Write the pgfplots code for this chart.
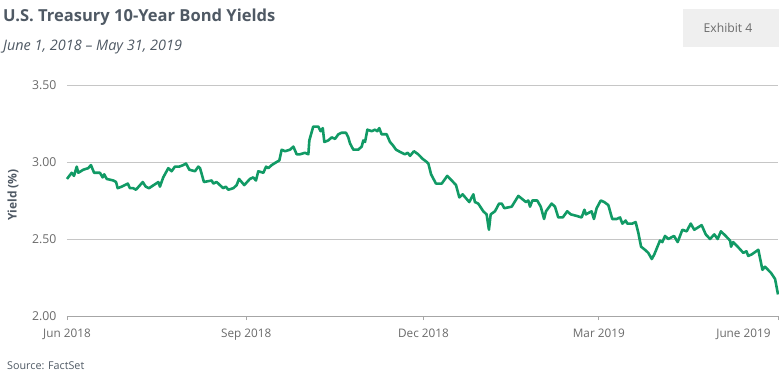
\documentclass[border=0pt]{standalone}
\usepackage{pgfplots}
\pgfplotsset{compat=1.18}
\usepackage{fontspec}
\setmainfont{Open Sans}
\definecolor{lineg}{HTML}{119A65}
\definecolor{titleg}{HTML}{4F5964}
\definecolor{tickg}{HTML}{6A6A6A}
\definecolor{gridg}{HTML}{C6C6C6}
\definecolor{boxg}{HTML}{EFEFEF}
\begin{document}
\begin{tikzpicture}[x=1bp,y=1bp]
\useasboundingbox (-67,-59) rectangle (712,316);
\begin{axis}[
  at={(0,0)}, anchor=origin,
  scale only axis, width=711bp, height=231bp,
  xmin=0, xmax=365, ymin=2, ymax=3.5,
  axis x line*=bottom, axis y line*=left,
  y axis line style={draw=none},
  x axis line style={draw=gray!70, line width=0.9pt},
  ytick={2,2.5,3,3.5},
  ytick style={draw=none},
  yticklabel style={/pgf/number format/fixed, /pgf/number format/fixed zerofill, /pgf/number format/precision=2, font=\fontsize{12.3}{14}\selectfont, text=tickg, xshift=-7bp},
  xtick={0,92,183,273},
  xticklabels={Jun 2018, Sep 2018, Dec 2018, Mar 2019},
  extra x ticks={365},
  extra x tick labels={June 2019},
  extra x tick style={xticklabel style={anchor=north east, xshift=-4bp}},
  xticklabel style={font=\fontsize{11.8}{14}\selectfont, text=tickg, yshift=-5bp},
  xtick align=outside,
  major tick length=4bp,
  xtick style={draw=gray!70, line width=0.8pt},
  ymajorgrids, grid style={draw=gridg, line width=0.8pt},
  /pgf/number format/assume math mode=true,
  clip=false,
]
\addplot[lineg, line width=2.6pt, line join=round] coordinates {
(0,2.89) (2.4,2.93) (3.6,2.91) (5.0,2.97) (5.8,2.93) (8.4,2.95) (10.9,2.96) (12.3,2.98)
(13.9,2.93) (16.9,2.93) (18.3,2.90) (19.1,2.92) (20.4,2.89) (23.8,2.88) (25.2,2.87) (26.0,2.83)
(28.1,2.84) (31.2,2.86) (32.3,2.83) (34.0,2.83) (35.4,2.82) (38.9,2.87) (40.4,2.84) (42.1,2.83)
(46.9,2.87) (47.7,2.84) (49.4,2.90) (52.0,2.96) (53.7,2.94) (55.4,2.97) (57.6,2.97) (59.7,2.98)
(61.1,2.99) (62.8,2.95) (65.7,2.94) (67.4,2.97) (68.3,2.96) (70.3,2.87) (74.3,2.88) (75.1,2.86)
(76.8,2.87) (80.2,2.83) (81.5,2.84) (82.8,2.82) (85.4,2.83) (87.1,2.85) (88.3,2.89) (91.0,2.85)
(93.9,2.89) (95.6,2.90) (97.0,2.88) (98.2,2.94) (100.8,2.93) (102.2,2.97) (103.3,2.96) (105.1,2.98)
(107.6,3.00) (109.0,3.01) (110.2,3.08) (111.9,3.07) (114.5,3.08) (116.2,3.10) (117.9,3.05) (119.6,3.05)
(122.2,3.06) (123.9,3.05) (124.4,3.14) (126.4,3.23) (129.0,3.23) (130.2,3.20) (131.3,3.22) (132.1,3.13)
(134.1,3.14) (135.9,3.16) (137.6,3.15) (139.3,3.18) (141.0,3.19) (143.2,3.19) (144.4,3.16) (145.3,3.12)
(147.0,3.08) (149.5,3.08) (151.3,3.10) (152.1,3.14) (153.0,3.13) (154.2,3.21) (156.4,3.20) (158.1,3.21)
(159.3,3.20) (160.3,3.22) (161.5,3.18) (164.1,3.18) (165.8,3.13) (167.2,3.11) (168.9,3.08) (171.8,3.06)
(173.5,3.05) (174.9,3.06) (176.1,3.04) (178.1,3.07) (180.3,3.05) (182.6,3.02) (184.7,3.00) (185.5,2.99)
(186.9,2.92) (189.4,2.86) (192.4,2.86) (195.2,2.91) (197.5,2.88) (199.7,2.85) (201.4,2.77) (203.1,2.79)
(206.5,2.74) (208.6,2.79) (209.4,2.74) (211.1,2.73) (213.7,2.68) (215.4,2.66) (216.6,2.56) (217.5,2.66)
(219.7,2.68) (221.8,2.73) (223.2,2.73) (224.5,2.70) (228.3,2.71) (231.7,2.78) (235.6,2.74) (236.8,2.75)
(237.7,2.71) (238.9,2.75) (241.4,2.75) (243.2,2.71) (244.9,2.63) (245.9,2.68) (248.8,2.73) (250.5,2.71)
(252.2,2.64) (254.5,2.64) (256.8,2.68) (258.6,2.66) (261.6,2.65) (264.2,2.64) (265.6,2.69) (266.4,2.66)
(269.3,2.68) (270.5,2.63) (271.9,2.70) (274.0,2.75) (275.8,2.74) (277.9,2.72) (279.9,2.63) (282.2,2.63)
(283.9,2.64) (285.1,2.60) (286.8,2.62) (287.6,2.60) (290.2,2.60) (291.9,2.61) (293.3,2.54) (294.7,2.45)
(296.7,2.43) (298.4,2.41) (300.2,2.37) (301.5,2.40) (304.4,2.49) (305.6,2.48) (307.0,2.52) (308.7,2.50)
(311.6,2.52) (313.5,2.48) (315.9,2.56) (318.1,2.55) (320.2,2.60) (322.0,2.56) (325.8,2.59) (327.9,2.53)
(330.1,2.50) (332.3,2.53) (334.0,2.50) (335.7,2.55) (338.1,2.52) (340.4,2.49) (340.9,2.45) (342.0,2.48)
(344.3,2.45) (347.2,2.41) (348.8,2.42) (349.7,2.39) (351.5,2.40) (354.9,2.43) (357.0,2.30) (358.3,2.32)
(361.4,2.28) (363.5,2.24) (365,2.14)
};
\end{axis}
\node[anchor=base west, inner sep=0, text=titleg, font=\fontsize{16.6}{19}\selectfont\bfseries] at (-64,295) {U.S. Treasury 10-Year Bond Yields};
\node[anchor=base west, inner sep=0, text=titleg, font=\fontsize{14.5}{17}\selectfont\itshape] at (-64,266) {June 1, 2018 -- May 31, 2019};
\fill[boxg] (616,269) rectangle (712,307);
\node[text=tickg, font=\fontsize{12.2}{14}\selectfont] at (661,288) {Exhibit 4};
\node[rotate=90, text=titleg, font=\fontsize{12}{14}\selectfont\bfseries] at (-54,121) {Yield (\%)};
\node[anchor=base west, inner sep=0, text=titleg, font=\fontsize{10.8}{12}\selectfont] at (-60,-53) {Source: FactSet};
\end{tikzpicture}
\end{document}
